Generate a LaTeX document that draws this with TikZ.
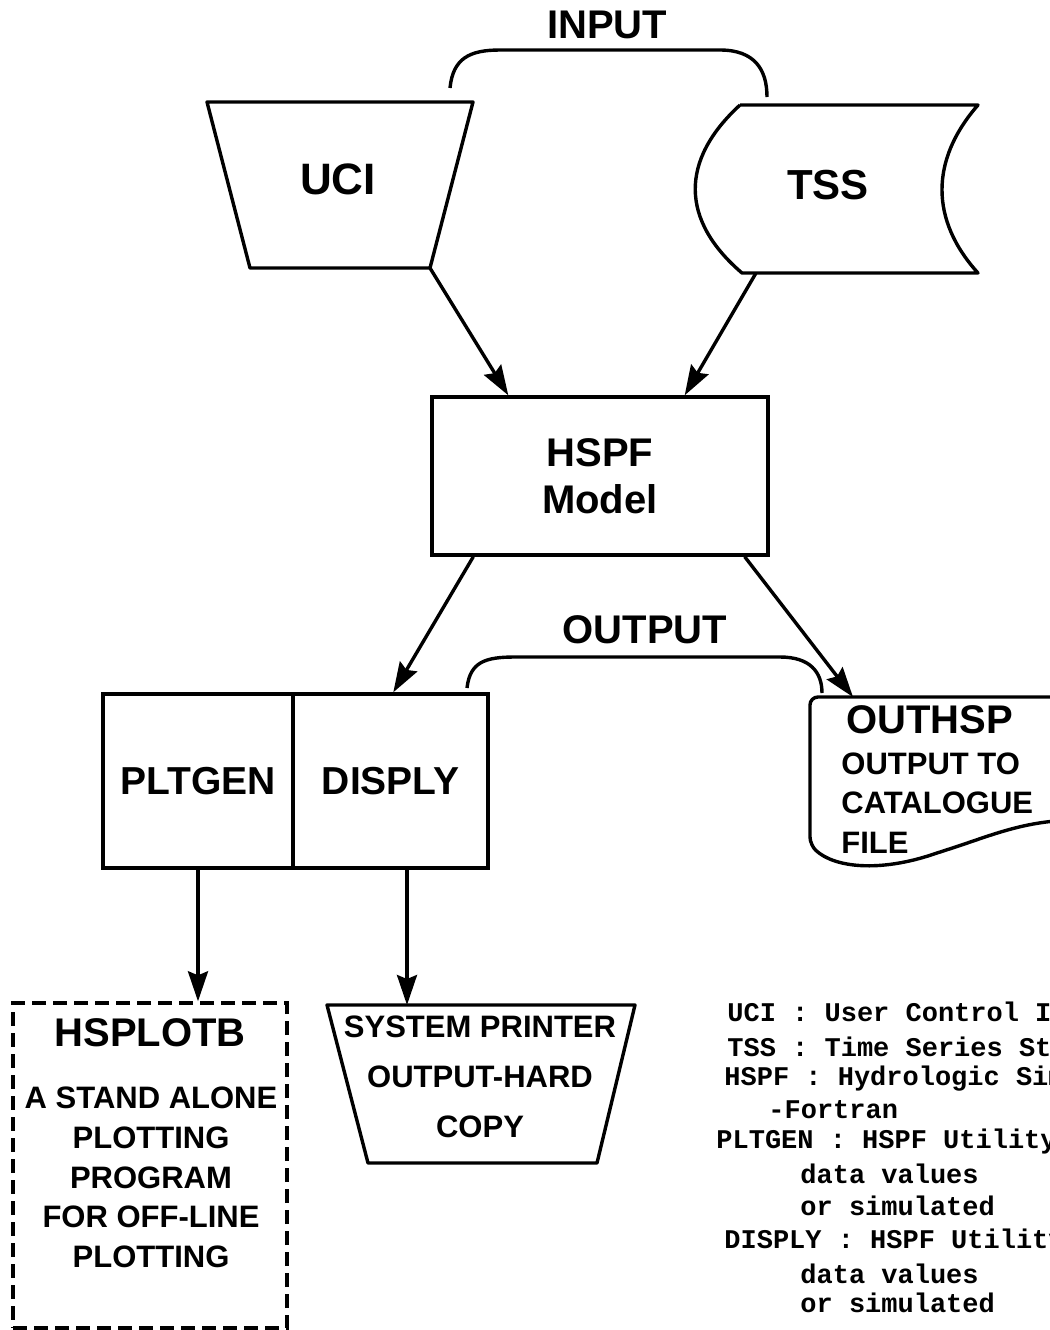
\documentclass[tikz,border=0pt]{standalone}
\usepackage{fontspec}
\setmainfont{Liberation Sans}
\setmonofont{Liberation Mono}
\usetikzlibrary{arrows.meta}

\tikzset{
  line/.style={line width=1.7pt, line join=round},
  arr/.style={line, -{Stealth[length=15pt,width=10pt,inset=2pt]}},
  box/.style={draw, line width=1.7pt, inner sep=0pt},
  big/.style={inner sep=0pt, align=center, font=\fontsize{20}{23.5}\selectfont\bfseries},
  small/.style={inner sep=0pt, align=center, font=\fontsize{15.5}{19.8}\selectfont\bfseries},
  legend/.style={anchor=west, inner sep=0pt, font=\fontsize{13.5}{16}\selectfont\ttfamily\bfseries}
}

\begin{document}
\begin{tikzpicture}[x=0.5pt,y=-0.5pt]
    \useasboundingbox (0,0) rectangle (1050,1330);
    \clip (0,0) rectangle (1050,1330);

    % input side
    \draw[line] (207,102) -- (473,102) -- (430,268) coordinate (uci-br) -- (250,268) -- cycle;
    \node[big, font=\fontsize{22}{26}\selectfont\bfseries] (uci) at (338,179) {UCI};
    \draw[line] (740,105) -- (978,105) .. controls (930,160) and (930,220) .. (978,273)
        -- (742,273) coordinate (tss-bl) .. controls (680,220) and (680,160) .. (740,105);
    \node[big, font=\fontsize{21}{25}\selectfont\bfseries] (tss) at (828,185) {TSS};
    \draw[line] (450,88) .. controls (453,58) and (470,50) .. (500,50) -- (720,50)
        .. controls (755,50) and (767,70) .. (767,97);
    \node[big] (input) at (607,25) {INPUT};

    % model
    \node[box, big, minimum width=168pt, minimum height=79pt] (hspf) at (600,476) {HSPF\\Model};
    \draw[arr] (uci-br) -- ([xshift=39pt]hspf.north west);
    \draw[arr] ([xshift=7pt]tss-bl) -- ([xshift=-42.5pt]hspf.north east);

    % output side
    \node[box, minimum width=95pt, minimum height=87pt, font=\fontsize{19.5}{23}\selectfont\bfseries] (pltgen) at (198,781) {PLTGEN};
    \node[box, minimum width=97.5pt, minimum height=87pt, font=\fontsize{19.5}{23}\selectfont\bfseries] (disply) at (390.5,781) {DISPLY};
    \draw[arr] ([xshift=21.5pt]hspf.south west) -- ([xshift=51pt]disply.north west);
    \draw[line] (467,688) .. controls (470,662) and (485,657) .. (515,657) -- (780,657)
        .. controls (810,657) and (822,672) .. (822,693);
    \node[big] (output) at (645,630) {OUTPUT};

    \draw[line, rounded corners=4pt] (1070,697) -- (810,697) coordinate (outhsp-tl) -- (810,845)
        .. controls (835,868) and (880,872) .. (940,852) .. controls (990,836) and (1020,822) .. (1070,820);
    \draw[arr] ([xshift=-12.5pt]hspf.south east) -- ([xshift=21.5pt]outhsp-tl);
    \node[big, anchor=west] (outhsp) at (846,720) {OUTHSP};
    \node[small, anchor=west, align=left] (outhsp-text) at (841,803) {OUTPUT TO\\CATALOGUE\\FILE};

    % plotting and printing
    \node[box, dashed, dash pattern=on 7pt off 3.5pt, minimum width=137pt, minimum height=162.5pt] (hsplotb) at (150,1165.5) {};
    \node[big] (hsplotb-title) at (150,1033) {HSPLOTB};
    \node[small] (hsplotb-text) at (151,1177.5) {A STAND ALONE\\PLOTTING\\PROGRAM\\FOR OFF-LINE\\PLOTTING};
    \draw[arr] (pltgen.south) -- (pltgen.south |- hsplotb.north);

    \draw[line] (327,1005) -- (635,1005) -- (597,1163) -- (368,1163) -- cycle;
    \node[small, font=\fontsize{15.5}{25}\selectfont\bfseries] (printer) at (480,1077) {SYSTEM PRINTER\\OUTPUT-HARD\\COPY};
    \draw[arr] (disply.south -| 407,0) -- (407,1005);

    % key
    \foreach \x/\y/\txt in {727/1015/{UCI : User Control Input},
                            727/1047/{TSS : Time Series Store},
                            724/1079/{HSPF : Hydrologic Simulation},
                            768/1110/{-Fortran},
                            716/1142/{PLTGEN : HSPF Utility},
                            800/1174/{data values},
                            800/1206/{or simulated},
                            724/1242/{DISPLY : HSPF Utility},
                            800/1274/{data values},
                            800/1303/{or simulated}}
        \node[legend] at (\x,\y) {\txt};
\end{tikzpicture}
\end{document}
